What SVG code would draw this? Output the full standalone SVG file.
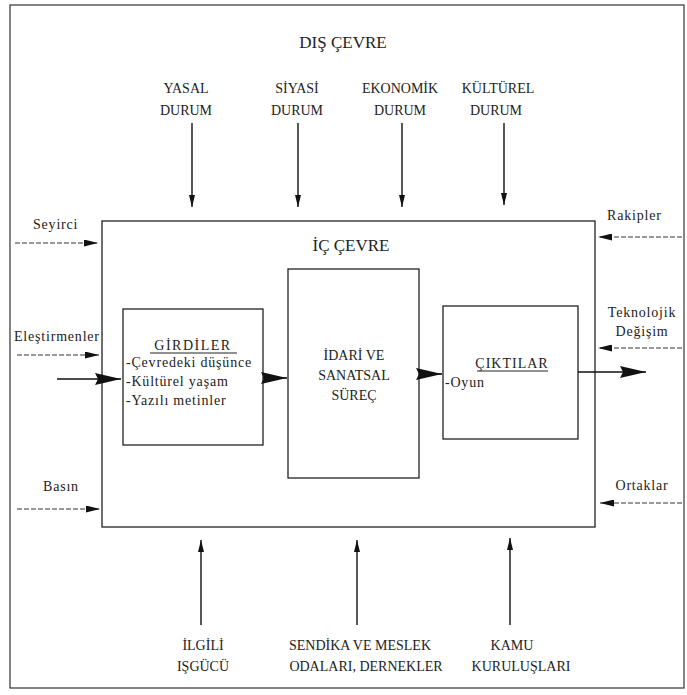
<svg xmlns="http://www.w3.org/2000/svg" width="687" height="695" viewBox="0 0 687 695">
<style>
.bg{fill:#fff}
.box{fill:none;stroke:#222;stroke-width:1.3}
.frame{fill:none;stroke:#333;stroke-width:1.2}
.t{font-family:"Liberation Serif","Times New Roman",serif;fill:#222}
.cap{font-size:14px;text-anchor:middle}
.big{font-size:17px;text-anchor:middle}
.sm{font-size:14px;letter-spacing:0.8px}
.mid{text-anchor:middle}
.ul{stroke:#222;stroke-width:1}
.dash{fill:none;stroke:#333;stroke-width:1;stroke-dasharray:5 2}
.solid{fill:none;stroke:#111;stroke-width:1.4}
.thick{fill:none;stroke:#111;stroke-width:1.6}
</style>
<defs>
<marker id="ah" markerUnits="userSpaceOnUse" markerWidth="14" markerHeight="7" refX="14" refY="3.5" orient="auto">
<path d="M0,0 L14,3.5 L0,7 z" fill="#111"/>
</marker>
<marker id="av" markerUnits="userSpaceOnUse" markerWidth="12" markerHeight="6" refX="12" refY="3" orient="auto">
<path d="M0,0 L12,3 L0,6 z" fill="#111"/>
</marker>
<marker id="ab" markerUnits="userSpaceOnUse" markerWidth="26" markerHeight="12" refX="26" refY="6" orient="auto">
<path d="M0,0 L26,6 L0,12 L3,6 z" fill="#111"/>
</marker>
</defs>
<rect class="bg" x="0" y="0" width="687" height="695"/>
<g id="dis-cevre">
<rect class="frame" x="10" y="5" width="674" height="683"/>
<text class="t big" x="343" y="48">DIŞ ÇEVRE</text>
</g>
<g id="ic-cevre">
<rect class="box" x="102" y="221" width="493" height="306"/>
<text class="t big" x="351" y="251">İÇ ÇEVRE</text>
</g>
<g id="girdiler">
<rect class="box" x="123" y="309" width="140" height="136"/>
<text class="t cap" x="193" y="350" style="letter-spacing:1.5px">GİRDİLER</text>
<line class="ul" x1="150" y1="353" x2="237" y2="353"/>
<text class="t sm" x="126" y="367">-Çevredeki düşünce</text>
<text class="t sm" x="126" y="386">-Kültürel yaşam</text>
<text class="t sm" x="126" y="405">-Yazılı metinler</text>
</g>
<g id="surec">
<rect class="box" x="288" y="269" width="131" height="209"/>
<text class="t cap" x="354" y="360">İDARİ VE</text>
<text class="t cap" x="354" y="380">SANATSAL</text>
<text class="t cap" x="354" y="400">SÜREÇ</text>
</g>
<g id="ciktilar">
<rect class="box" x="443" y="306" width="135" height="133"/>
<text class="t cap" x="512" y="368" style="letter-spacing:1px">ÇIKTILAR</text>
<line class="ul" x1="477" y1="371" x2="548" y2="371"/>
<text class="t sm" x="445" y="387">-Oyun</text>
</g>
<g id="yasal"><text class="t cap" x="186" y="93">YASAL</text><text class="t cap" x="186" y="115">DURUM</text></g>
<g id="siyasi"><text class="t cap" x="297" y="93">SİYASİ</text><text class="t cap" x="297" y="115">DURUM</text></g>
<g id="ekonomik"><text class="t cap" x="400" y="93">EKONOMİK</text><text class="t cap" x="400" y="115">DURUM</text></g>
<g id="kulturel"><text class="t cap" x="498" y="93">KÜLTÜREL</text><text class="t cap" x="496" y="115">DURUM</text></g>
<g id="seyirci"><text class="t sm" x="33" y="229">Seyirci</text></g>
<g id="elestirmenler"><text class="t sm" x="14" y="341">Eleştirmenler</text></g>
<g id="basin"><text class="t sm" x="43" y="491">Basın</text></g>
<g id="rakipler"><text class="t sm" x="607" y="220">Rakipler</text></g>
<g id="teknolojik"><text class="t sm mid" x="642" y="317">Teknolojik</text><text class="t sm mid" x="642" y="336">Değişim</text></g>
<g id="ortaklar"><text class="t sm mid" x="642" y="490">Ortaklar</text></g>
<g id="isgucu"><text class="t cap" x="203" y="650">İLGİLİ</text><text class="t cap" x="203" y="671">IŞGÜCÜ</text></g>
<g id="sendika"><text class="t cap" x="360" y="650">SENDİKA VE MESLEK</text><text class="t cap" x="366" y="671">ODALARI, DERNEKLER</text></g>
<g id="kamu"><text class="t cap" x="512" y="650">KAMU</text><text class="t cap" x="521" y="671">KURULUŞLARI</text></g>
<g id="connectors">
<line class="solid" x1="192" y1="123" x2="192" y2="207" marker-end="url(#av)"/>
<line class="solid" x1="298" y1="123" x2="298" y2="207" marker-end="url(#av)"/>
<line class="solid" x1="402" y1="123" x2="402" y2="207" marker-end="url(#av)"/>
<line class="solid" x1="504" y1="123" x2="504" y2="205" marker-end="url(#av)"/>
<line class="solid" x1="201" y1="625" x2="201" y2="540" marker-end="url(#av)"/>
<line class="solid" x1="357" y1="625" x2="357" y2="540" marker-end="url(#av)"/>
<line class="solid" x1="510" y1="625" x2="510" y2="538" marker-end="url(#av)"/>
<line class="dash" x1="15" y1="243" x2="98" y2="243" marker-end="url(#ah)"/>
<line class="dash" x1="17" y1="355" x2="99" y2="355" marker-end="url(#ah)"/>
<line class="dash" x1="17" y1="509" x2="100" y2="509" marker-end="url(#ah)"/>
<line class="dash" x1="682" y1="237" x2="598" y2="237" marker-end="url(#ah)"/>
<line class="dash" x1="682" y1="348" x2="598" y2="348" marker-end="url(#ah)"/>
<line class="dash" x1="682" y1="503" x2="600" y2="503" marker-end="url(#ah)"/>
<line class="thick" x1="57" y1="379" x2="121" y2="379" marker-end="url(#ab)"/>
<line class="thick" x1="263" y1="378" x2="287" y2="378" marker-end="url(#ab)"/>
<line class="thick" x1="419" y1="374" x2="442" y2="374" marker-end="url(#ab)"/>
<line class="thick" x1="578" y1="372" x2="646" y2="372" marker-end="url(#ab)"/>
</g>
</svg>
